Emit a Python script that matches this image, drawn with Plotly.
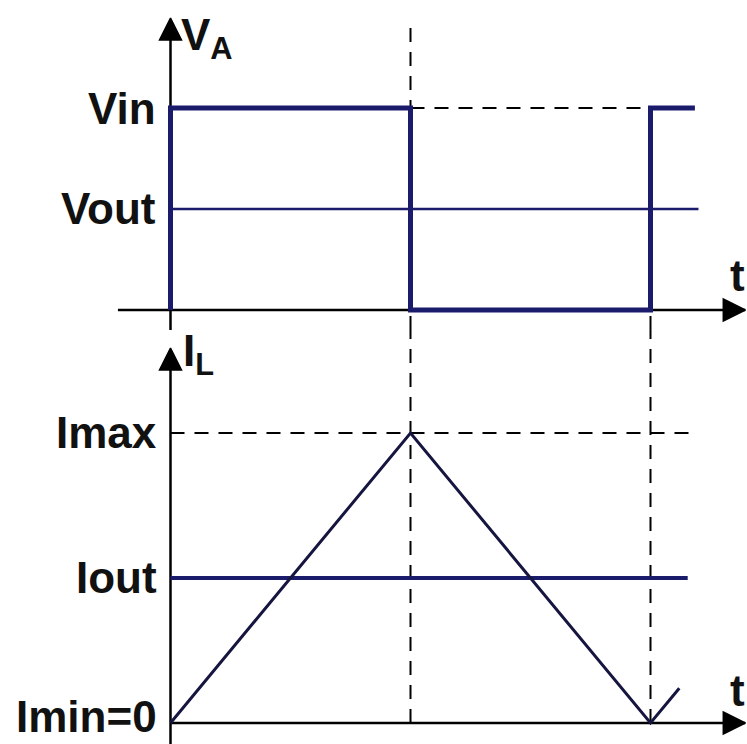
import plotly.graph_objects as go

# ---------------- data ----------------
# time in units of the on-time D (switch turns off at t=1, period ends at t=2)
t_switch = [0, 0, 1, 1, 2, 2, 2.185]
va_values = [0, 1, 1, 0, 0, 1, 1]          # V_A normalized to Vin
vout_t = [0, 2.2]
vout_values = [0.5, 0.5]                   # Vout / Vin
vin_dash_t = [1, 2]
vin_dash_values = [1, 1]

il_t = [0, 1, 2, 2.12]
il_values = [0, 1, 0, 0.12]                # I_L normalized to Imax
iout_t = [0, 2.155]
iout_values = [0.5, 0.5]
imax_dash_t = [0, 2.165]
imax_dash_values = [1, 1]

v_ticks = [1, 0.5]
v_ticktext = ["Vin", "Vout"]
i_ticks = [1, 0.5]
i_ticktext = ["Imax", "Iout"]
i_min_text = "Imin=0"

# axis extents (data units)
X_RANGE = [-0.7104, 2.4021]
YV_RANGE = [-0.099, 1.5347]
YI_RANGE = [-0.0724, 1.3552]
V_AXIS_TOP = 1.445
I_AXIS_TOP = 1.293
T_AXIS_START_TOP = -0.219
T_AXIS_END = 2.395

NAVY = "#1b1b6b"
DARK = "#15153f"
BLACK = "#000000"
FONT = "Liberation Sans, Arial, sans-serif"

fig = go.Figure()

def line(x, y, yaxis, color, width, dash="solid"):
    fig.add_trace(go.Scatter(x=x, y=y, yaxis=yaxis, mode="lines",
                             line=dict(color=color, width=width, dash=dash),
                             hoverinfo="skip", cliponaxis=False))

def axis_arrow(x, y, yaxis, symbol):
    fig.add_trace(go.Scatter(x=x, y=y, yaxis=yaxis, mode="lines+markers",
                             line=dict(color=BLACK, width=2.5),
                             marker=dict(symbol=["circle", symbol], size=[0, 22],
                                         color=BLACK, opacity=1,
                                         line=dict(width=1.5, color=BLACK)),
                             hoverinfo="skip", cliponaxis=False))

DASH = "14px,10px"

# dashed guide lines
line([1, 1], [YV_RANGE[0], V_AXIS_TOP], "y", BLACK, 2, DASH)
line([1, 1], [0, YI_RANGE[1]], "y2", BLACK, 2, DASH)
line([2, 2], [YV_RANGE[0], 0], "y", BLACK, 2, DASH)
line([2, 2], [0, YI_RANGE[1]], "y2", BLACK, 2, DASH)
line(vin_dash_t, vin_dash_values, "y", BLACK, 2, DASH)
line(imax_dash_t, imax_dash_values, "y2", BLACK, 2, DASH)

# axes
axis_arrow([0, 0], [YV_RANGE[0], V_AXIS_TOP], "y", "arrow-up")
axis_arrow([0, 0], [YI_RANGE[0], I_AXIS_TOP], "y2", "arrow-up")
axis_arrow([T_AXIS_START_TOP, T_AXIS_END], [0, 0], "y", "arrow-right")
axis_arrow([0, T_AXIS_END], [0, 0], "y2", "arrow-right")

# signals
line(vout_t, vout_values, "y", NAVY, 2.5)
line(t_switch, va_values, "y", NAVY, 5)
line(iout_t, iout_values, "y2", NAVY, 4)
line(il_t, il_values, "y2", DARK, 3)

ann = []
lab_font = dict(family=FONT, size=44, color="#111111", weight="bold")
for v, txt in zip(v_ticks, v_ticktext):
    ann.append(dict(x=0, y=v, xref="x", yref="y", text=txt, showarrow=False,
                    xanchor="right", yanchor="middle", xshift=-13, font=lab_font))
for v, txt in zip(i_ticks, i_ticktext):
    ann.append(dict(x=0, y=v, xref="x", yref="y2", text=txt, showarrow=False,
                    xanchor="right", yanchor="middle", xshift=-12, font=lab_font))
ann.append(dict(x=0, y=YI_RANGE[0], xref="x", yref="y2", text=i_min_text,
                showarrow=False, xanchor="right", yanchor="bottom", xshift=-12,
                yshift=1, font=lab_font))
ann.append(dict(x=0, y=V_AXIS_TOP, xref="x", yref="y", text="V<sub>A</sub>",
                showarrow=False, xanchor="left", yanchor="top", xshift=8, yshift=10,
                font=lab_font))
ann.append(dict(x=0, y=I_AXIS_TOP, xref="x", yref="y2", text="I<sub>L</sub>",
                showarrow=False, xanchor="left", yanchor="top", xshift=10, yshift=24,
                font=lab_font))
ann.append(dict(x=X_RANGE[1], y=0, xref="x", yref="y", text="t", showarrow=False,
                xanchor="right", yanchor="bottom", yshift=8, font=lab_font))
ann.append(dict(x=X_RANGE[1], y=0, xref="x", yref="y2", text="t", showarrow=False,
                xanchor="right", yanchor="bottom", yshift=6, font=lab_font))

fig.update_layout(
    width=747, height=744,
    margin=dict(l=0, r=0, t=0, b=0),
    paper_bgcolor="white", plot_bgcolor="white",
    showlegend=False,
    xaxis=dict(range=X_RANGE, visible=False, domain=[0, 1]),
    yaxis=dict(range=YV_RANGE, visible=False, domain=[0.5565, 1]),
    yaxis2=dict(range=YI_RANGE, visible=False, domain=[0, 0.5565], anchor="x"),
    annotations=ann,
)

fig.write_html("out.html", config={"displayModeBar": False},
               post_script="document.body.style.margin='0';document.body.style.overflow='hidden';")
